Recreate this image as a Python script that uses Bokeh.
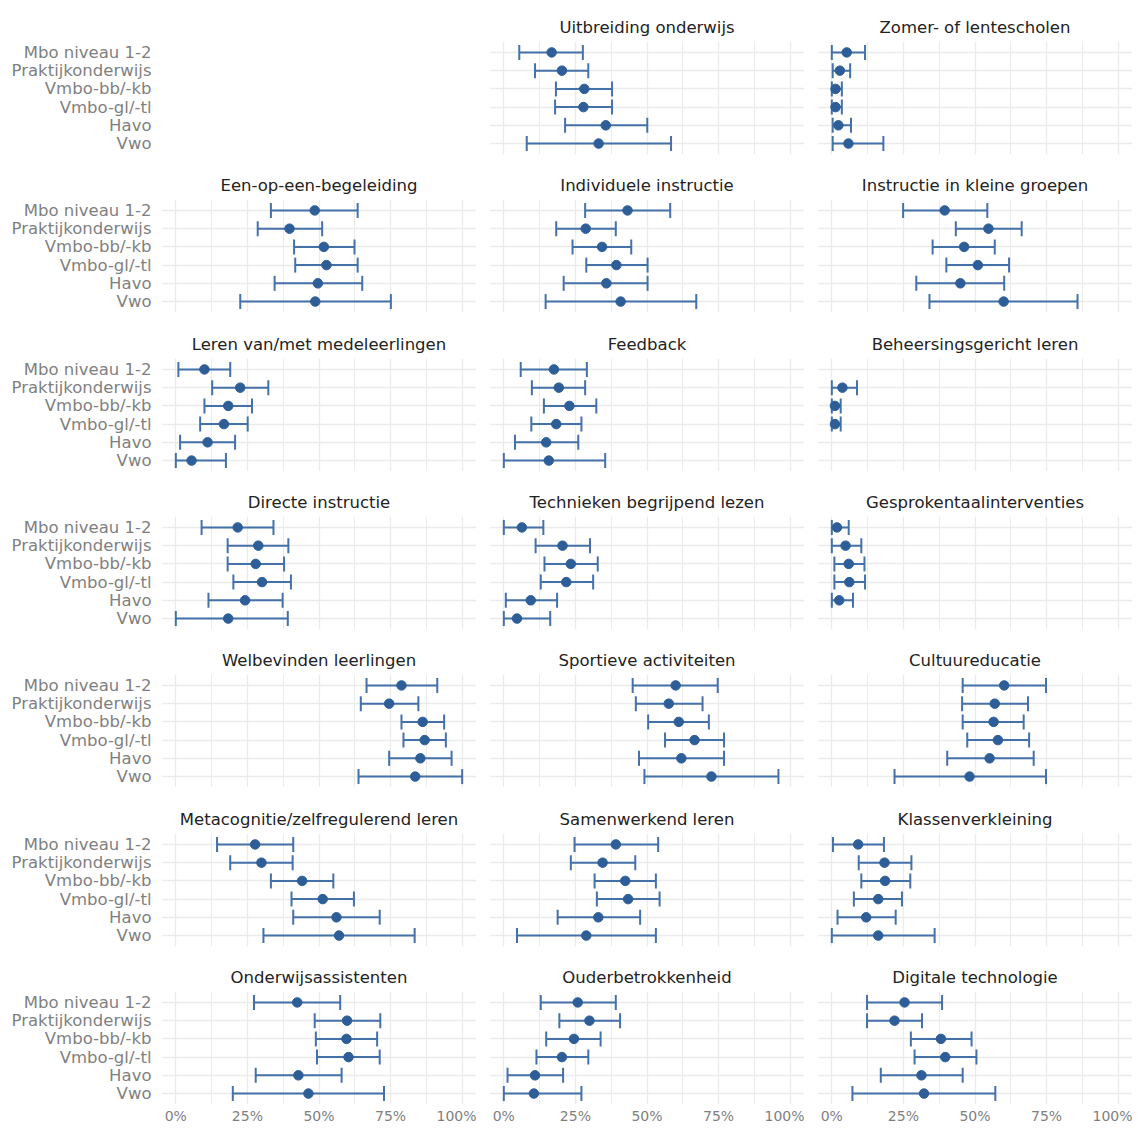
from bokeh.plotting import figure
from bokeh.layouts import gridplot
from bokeh.models import (FactorRange, Range1d, ColumnDataSource, Whisker, TeeHead,
                          FixedTicker, NumeralTickFormatter)
from bokeh.embed import file_html
from bokeh.resources import INLINE

levels = ["Mbo niveau 1-2", "Praktijkonderwijs", "Vmbo-bb/-kb", "Vmbo-gl/-tl", "Havo", "Vwo"]

facet_titles = [
    None, "Uitbreiding onderwijs", "Zomer- of lentescholen",
    "Een-op-een-begeleiding", "Individuele instructie", "Instructie in kleine groepen",
    "Leren van/met medeleerlingen", "Feedback", "Beheersingsgericht leren",
    "Directe instructie", "Technieken begrijpend lezen", "Gesprokentaalinterventies",
    "Welbevinden leerlingen", "Sportieve activiteiten", "Cultuureducatie",
    "Metacognitie/zelfregulerend leren", "Samenwerkend leren", "Klassenverkleining",
    "Onderwijsassistenten", "Ouderbetrokkenheid", "Digitale technologie",
]

# percentages: estimate, lower bound, upper bound (order of `levels`)
uitbreiding_est = [16.7, 20.3, 28.1, 27.8, 35.6, 33.1]
uitbreiding_lo = [5.4, 10.9, 18.2, 17.9, 21.4, 8.0]
uitbreiding_hi = [27.6, 29.5, 37.8, 37.8, 50.1, 58.4]

zomer_est = [5.2, 2.8, 1.3, 1.3, 2.3, 5.8]
zomer_lo = [0.0, 0.3, 0.0, 0.0, 0.3, 0.3]
zomer_hi = [11.6, 6.4, 3.5, 3.5, 6.7, 18.0]

eenopeen_est = [48.5, 39.7, 51.7, 52.6, 49.6, 48.7]
eenopeen_lo = [33.2, 28.6, 41.3, 41.7, 34.5, 22.5]
eenopeen_hi = [63.5, 51.1, 62.4, 63.5, 65.1, 75.1]

individueel_est = [43.2, 28.6, 34.3, 39.3, 35.8, 40.8]
individueel_lo = [28.4, 18.3, 24.0, 28.8, 20.9, 14.6]
individueel_hi = [58.1, 39.1, 44.5, 50.2, 50.2, 67.2]

kleinegroep_est = [39.4, 54.7, 46.2, 51.0, 44.9, 60.0]
kleinegroep_lo = [24.9, 43.3, 35.2, 40.0, 29.5, 34.1]
kleinegroep_hi = [54.3, 66.3, 56.9, 61.9, 60.2, 85.8]

medeleerling_est = [10.0, 22.5, 18.3, 16.8, 11.1, 5.5]
medeleerling_lo = [0.9, 12.7, 10.0, 8.5, 1.5, 0.0]
medeleerling_hi = [19.0, 32.3, 26.6, 25.1, 20.7, 17.5]

feedback_est = [17.5, 19.2, 22.9, 18.3, 14.8, 15.7]
feedback_lo = [5.9, 9.8, 14.0, 9.6, 3.9, 0.0]
feedback_hi = [29.0, 28.4, 32.3, 27.1, 26.0, 35.4]

beheersing_est = [None, 3.7, 1.1, 1.1, None, None]
beheersing_lo = [None, 0.0, 0.0, 0.0, None, None]
beheersing_hi = [None, 8.8, 3.1, 3.1, None, None]

directe_est = [21.6, 28.8, 27.9, 30.1, 24.2, 18.3]
directe_lo = [9.0, 18.1, 18.1, 20.1, 11.4, 0.0]
directe_hi = [34.1, 39.3, 37.8, 40.2, 37.3, 39.1]

lezen_est = [6.3, 20.5, 23.4, 21.8, 9.4, 4.6]
lezen_lo = [0.0, 11.1, 14.2, 12.9, 0.7, 0.0]
lezen_hi = [13.8, 30.1, 32.8, 31.2, 18.6, 16.2]

gesproken_est = [1.8, 4.8, 5.9, 6.1, 2.6, None]
gesproken_lo = [0.0, 0.0, 0.9, 0.9, 0.0, None]
gesproken_hi = [5.9, 10.3, 11.4, 11.6, 7.4, None]

welbevinden_est = [78.8, 74.5, 86.2, 86.9, 85.4, 83.6]
welbevinden_lo = [66.6, 64.6, 78.8, 79.5, 74.5, 63.8]
welbevinden_hi = [91.3, 84.7, 93.7, 94.3, 96.3, 100.0]

sport_est = [60.0, 57.6, 61.1, 66.6, 62.0, 72.5]
sport_lo = [45.0, 46.1, 50.4, 56.3, 47.2, 49.1]
sport_hi = [74.7, 69.4, 71.6, 76.9, 76.9, 95.9]

cultuur_est = [60.2, 56.9, 56.5, 58.0, 55.1, 48.1]
cultuur_lo = [45.7, 45.5, 45.7, 47.3, 40.3, 21.9]
cultuur_hi = [74.8, 68.5, 67.0, 68.9, 70.5, 74.8]

metacognitie_est = [27.7, 29.9, 44.1, 51.3, 56.1, 57.0]
metacognitie_lo = [14.4, 19.0, 33.2, 40.4, 41.0, 30.6]
metacognitie_hi = [41.0, 40.8, 55.0, 62.2, 71.2, 83.4]

samenwerkend_est = [39.1, 34.5, 42.4, 43.4, 33.0, 28.8]
samenwerkend_lo = [24.7, 23.4, 31.7, 32.5, 18.8, 4.6]
samenwerkend_hi = [53.9, 45.9, 53.1, 54.4, 47.6, 53.1]

klassen_est = [9.2, 18.4, 18.6, 16.2, 12.0, 16.2]
klassen_lo = [0.4, 9.4, 10.3, 7.7, 2.0, 0.0]
klassen_hi = [18.2, 27.8, 27.4, 24.5, 22.3, 35.9]

assistenten_est = [42.4, 59.8, 59.6, 60.3, 42.8, 46.3]
assistenten_lo = [27.3, 48.5, 48.9, 49.3, 27.9, 19.9]
assistenten_hi = [57.4, 71.4, 70.3, 71.2, 57.9, 72.7]

ouder_est = [25.8, 29.9, 24.5, 20.3, 10.9, 10.5]
ouder_lo = [12.9, 19.4, 14.8, 11.4, 1.3, 0.0]
ouder_hi = [39.1, 40.6, 33.8, 29.5, 20.7, 27.1]

digitaal_est = [25.4, 21.9, 38.1, 39.6, 31.3, 32.2]
digitaal_lo = [12.3, 12.3, 27.6, 28.9, 17.1, 7.2]
digitaal_hi = [38.5, 31.5, 48.8, 50.5, 45.7, 57.1]

x_ticks = [0, 0.25, 0.5, 0.75, 1.0]
x_minor = [0.125, 0.375, 0.625, 0.875]

facet_data = [
    None,
    (uitbreiding_est, uitbreiding_lo, uitbreiding_hi),
    (zomer_est, zomer_lo, zomer_hi),
    (eenopeen_est, eenopeen_lo, eenopeen_hi),
    (individueel_est, individueel_lo, individueel_hi),
    (kleinegroep_est, kleinegroep_lo, kleinegroep_hi),
    (medeleerling_est, medeleerling_lo, medeleerling_hi),
    (feedback_est, feedback_lo, feedback_hi),
    (beheersing_est, beheersing_lo, beheersing_hi),
    (directe_est, directe_lo, directe_hi),
    (lezen_est, lezen_lo, lezen_hi),
    (gesproken_est, gesproken_lo, gesproken_hi),
    (welbevinden_est, welbevinden_lo, welbevinden_hi),
    (sport_est, sport_lo, sport_hi),
    (cultuur_est, cultuur_lo, cultuur_hi),
    (metacognitie_est, metacognitie_lo, metacognitie_hi),
    (samenwerkend_est, samenwerkend_lo, samenwerkend_hi),
    (klassen_est, klassen_lo, klassen_hi),
    (assistenten_est, assistenten_lo, assistenten_hi),
    (ouder_est, ouder_lo, ouder_hi),
    (digitaal_est, digitaal_lo, digitaal_hi),
]

POINT = "#2E5E98"
LINE = "#4371A8"
GRID = "#EBEBEB"
FONT = "DejaVu Sans"

top_borders = [41, 45, 46, 45, 45, 46, 45]
FRAME_W, FRAME_H = 315, 113

rows = []
for r in range(7):
    row = []
    for c in range(3):
        i = r * 3 + c
        title = facet_titles[i]
        yr = FactorRange(factors=list(reversed(levels)), range_padding=0.1,
                         range_padding_units="absolute")
        p = figure(
            x_range=Range1d(-0.05, 1.05), y_range=yr,
            frame_width=FRAME_W, frame_height=FRAME_H,
            output_backend="svg", toolbar_location=None,
            x_axis_location="below" if r == 6 else None,
            y_axis_location="left" if c == 0 else None,
            title=title,
        )
        p.min_border_left = 161 if c == 0 else 13
        p.min_border_right = 0
        p.min_border_top = top_borders[r]
        p.min_border_bottom = 0
        p.outline_line_color = None
        p.background_fill_color = "white"
        p.border_fill_color = "white"

        if title:
            p.title.align = "center"
            p.title.text_font = FONT
            p.title.text_font_size = "16.5px"
            p.title.text_font_style = "normal"
            p.title.text_color = "#222222"
            p.title.standoff = 10

        p.xgrid.ticker = FixedTicker(ticks=x_ticks, minor_ticks=x_minor)
        p.xgrid.grid_line_color = GRID
        p.xgrid.grid_line_width = 1.3
        p.xgrid.minor_grid_line_color = GRID
        p.xgrid.minor_grid_line_width = 1.0
        p.ygrid.grid_line_color = GRID
        p.ygrid.grid_line_width = 1.6

        if c == 0:
            ax = p.yaxis[0]
            ax.axis_line_color = None
            ax.major_tick_line_color = None
            ax.minor_tick_line_color = None
            ax.major_tick_out = 0
            ax.major_tick_in = 0
            ax.minor_tick_out = 0
            ax.major_label_standoff = 10
            ax.major_label_text_font = FONT
            ax.major_label_text_font_size = "16.5px"
            ax.major_label_text_color = "#7F7F7F"
        if r == 6:
            ax = p.xaxis[0]
            ax.ticker = FixedTicker(ticks=x_ticks)
            ax.formatter = NumeralTickFormatter(format="0%")
            ax.axis_line_color = None
            ax.major_tick_line_color = None
            ax.minor_tick_line_color = None
            ax.major_tick_out = 0
            ax.major_tick_in = 0
            ax.minor_tick_out = 0
            ax.major_label_standoff = 3
            ax.major_label_text_font = FONT
            ax.major_label_text_font_size = "14px"
            ax.major_label_text_color = "#7F7F7F"

        data = facet_data[i]
        if data is None:
            p.xgrid.visible = False
            p.ygrid.visible = False
        else:
            est, lo, hi = data
            keep = [k for k in range(len(levels)) if est[k] is not None]
            src = ColumnDataSource(dict(
                cat=[levels[k] for k in keep],
                est=[est[k] / 100 for k in keep],
                lo=[lo[k] / 100 for k in keep],
                hi=[hi[k] / 100 for k in keep],
            ))
            w = Whisker(source=src, base="cat", lower="lo", upper="hi", dimension="width",
                        line_color=LINE, line_width=2,
                        upper_head=TeeHead(size=15, line_color=LINE, line_width=2),
                        lower_head=TeeHead(size=15, line_color=LINE, line_width=2),
                        level="underlay")
            p.add_layout(w)
            p.scatter(x="est", y="cat", source=src, size=9.5, fill_color=POINT,
                      line_color=POINT)
        row.append(p)
    rows.append(row)

grid = gridplot(rows, toolbar_location=None)

open("out.html", "w").write(file_html(grid, INLINE))
